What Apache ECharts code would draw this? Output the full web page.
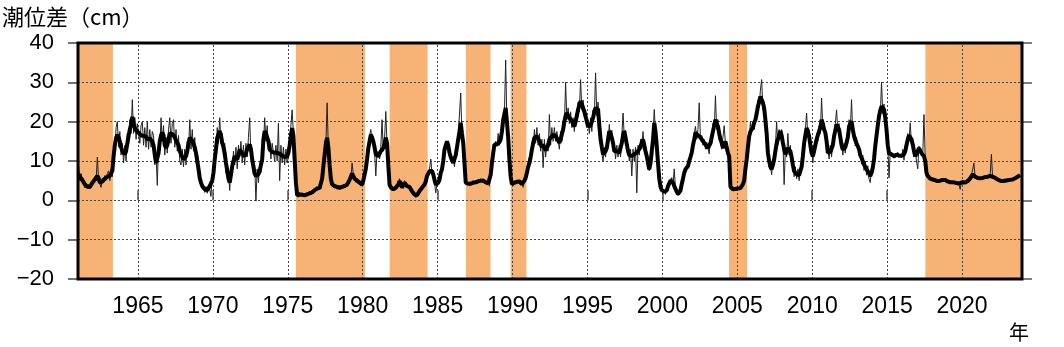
<!DOCTYPE html>
<html>
<head>
<meta charset="utf-8">
<script src="https://cdn.jsdelivr.net/npm/echarts@6/dist/echarts.min.js"></script>
<style>
  html, body { margin: 0; padding: 0; background: #fff; }
  #chart { width: 1064px; height: 347px; }
</style>
</head>
<body>
<div id="chart"></div>
<script>
// Tide-level difference (cm), one row per year (Jan..Dec), starting 1961.
const startYear = 1961;

// Short-period values (thin line).
const rawRows = [
  [9.0,5.0,6.8,4.6,5.5,3.2,4.4,3.0,4.0,2.9,4.5,4.0],            // 1961
  [4.2,6.0,5.0,11.0,5.0,5.2,3.3,5.6,4.5,6.3,5.1,6.8],           // 1962
  [7.5,5.0,8.0,6.0,13.5,12.0,18.5,20.0,13.5,17.5,11.5,14.5],    // 1963
  [9.5,14.0,10.0,17.0,14.0,20.5,17.0,25.6,17.0,21.0,15.5,19.5], // 1964
  [20.0,14.5,19.0,20.0,14.0,18.5,13.5,20.0,13.0,18.0,13.5,17.5],// 1965
  [16.5,9.0,12.0,3.8,14.5,13.0,21.0,15.0,19.0,11.5,16.0,12.0],  // 1966
  [18.0,21.0,14.5,19.5,20.5,13.5,18.0,12.5,16.5,10.0,9.0,13.0], // 1967
  [8.5,13.0,9.0,15.0,12.5,20.5,13.0,18.0,12.5,16.0,9.5,12.0],   // 1968
  [10.0,5.0,5.5,3.0,4.0,2.0,3.5,1.8,3.6,2.8,1.0,6.0],           // 1969
  [5.0,12.5,11.0,18.5,14.5,21.0,14.5,17.0,11.0,14.5,7.0,9.5],   // 1970
  [7.5,2.5,8.5,6.5,12.5,9.0,13.5,8.0,14.0,11.0,15.0,9.5],       // 1971
  [14.0,9.0,14.5,11.0,16.0,21.0,11.0,12.5,6.5,9.0,-0.2,8.0],    // 1972
  [4.5,9.5,7.0,12.5,13.5,21.0,15.0,19.0,13.0,15.0,10.5,14.5],   // 1973
  [14.5,10.0,14.0,10.0,19.6,5.0,14.0,9.5,13.5,9.0,13.0,9.5],    // 1974
  [11.0,15.0,15.5,23.0,17.0,11.5,3.5,1.8,0.8,2.0,1.1,1.9],      // 1975
  [0.9,1.8,1.0,2.0,1.2,2.3,1.5,2.5,1.9,3.1,2.4,3.5],            // 1976
  [2.7,3.8,2.9,6.5,8.0,12.5,14.0,24.8,13.0,10.0,4.8,4.6],       // 1977
  [4.3,3.1,4.0,2.8,3.8,2.7,3.8,2.9,4.1,3.2,4.2,3.6],            // 1978
  [4.0,5.8,5.2,9.5,6.5,6.2,4.6,5.6,4.3,5.0,3.7,4.5],            // 1979
  [5.5,6.0,9.0,10.0,14.5,14.0,18.0,15.0,16.0,12.5,6.2,12.5],    // 1980
  [12.5,10.5,13.5,20.5,12.5,15.5,22.6,14.0,9.5,3.5,3.8,2.6],    // 1981
  [3.2,2.5,3.6,3.1,4.5,5.5,3.8,3.6,3.1,5.0,3.6,4.1],            // 1982
  [3.1,3.9,2.6,2.8,1.4,1.9,0.7,1.7,1.4,2.9,2.4,3.6],            // 1983
  [3.1,4.5,4.3,6.8,6.3,8.0,10.5,7.0,7.2,4.6,1.9,4.2],           // 1984
  [5.2,4.6,7.8,7.2,11.0,12.0,15.0,14.2,15.0,11.2,12.0,9.5],     // 1985
  [10.5,8.5,12.5,12.8,16.5,16.8,27.3,16.0,15.5,8.5,5.0,3.9],    // 1986
  [4.6,3.7,4.7,4.0,5.0,4.1,5.0,4.3,5.3,4.5,5.5,4.8],            // 1987
  [5.5,4.4,5.1,4.0,4.8,3.6,7.2,9.0,13.0,13.5,15.0,13.8],        // 1988
  [17.0,14.0,16.5,17.0,21.5,22.5,35.7,19.0,16.5,10.0,5.5,4.6],  // 1989
  [4.0,4.9,4.1,5.1,4.4,5.2,4.0,4.6,3.3,5.5,5.3,7.5],            // 1990
  [7.0,11.0,9.5,14.5,13.0,18.0,14.5,18.5,14.0,17.0,12.5,15.5],  // 1991
  [8.3,15.5,11.0,14.5,12.5,21.8,14.0,18.5,15.0,18.5,15.0,17.5], // 1992
  [17.0,13.0,17.5,15.0,20.0,18.5,30.0,20.5,23.5,19.5,22.5,18.5],// 1993
  [21.0,17.5,22.0,20.0,25.0,22.5,30.7,23.0,25.5,21.0,23.0,18.5],// 1994
  [20.5,17.0,21.0,17.5,23.0,21.0,32.4,21.5,25.0,17.0,17.0,12.0],// 1995
  [10.0,13.5,11.0,15.0,14.0,19.3,15.5,17.8,12.8,14.0,10.5,14.0],// 1996
  [11.0,14.0,11.0,16.5,22.2,16.0,17.8,12.5,14.0,10.0,13.0,6.2], // 1997
  [13.0,10.0,13.5,1.9,14.0,11.5,15.5,13.0,17.5,12.5,14.0,9.5],  // 1998
  [10.0,7.5,10.5,12.0,16.5,23.1,17.0,14.5,9.0,6.0,3.0,3.1],     // 1999
  [2.0,2.6,1.5,3.0,3.2,4.8,4.6,5.8,4.0,8.0,2.8,2.6],            // 2000
  [1.2,2.0,2.2,4.6,5.0,7.5,7.5,8.8,8.2,10.5,10.5,12.8],         // 2001
  [12.5,17.0,18.8,15.5,18.0,24.8,15.5,16.5,14.0,15.5,13.0,14.8],// 2002
  [15.0,11.8,16.0,14.5,19.5,17.5,26.6,18.0,20.5,15.5,17.0,13.0],// 2003
  [12.8,19.0,14.5,14.0,11.5,11.8,3.0,3.4,2.5,3.1,2.7,3.3],      // 2004
  [3.2,2.8,3.4,3.2,4.5,4.6,8.5,10.0,14.0,15.5,20.0,17.5],       // 2005
  [20.0,18.0,22.5,20.5,25.5,23.5,28.0,30.7,23.0,25.0,19.0,18.5],// 2006
  [13.5,8.5,9.5,6.5,10.5,9.5,13.5,20.0,14.0,18.0,16.0,18.0],    // 2007
  [15.5,4.0,13.0,11.0,17.0,11.5,14.0,9.5,10.5,6.0,8.5,5.5],     // 2008
  [8.0,5.0,7.5,7.0,13.0,13.0,18.0,22.2,16.0,18.0,12.5,13.5],    // 2009
  [9.5,14.0,12.5,17.0,15.0,19.0,17.0,26.0,18.0,19.5,15.8,16.5], // 2010
  [13.5,10.5,14.0,11.0,15.5,15.0,19.5,23.0,17.5,19.5,14.5,15.5],// 2011
  [11.5,14.5,12.0,15.5,14.5,20.5,18.0,25.6,16.5,18.0,13.8,16.0],// 2012
  [15.8,11.5,13.0,9.2,11.5,7.6,10.0,6.4,8.8,5.4,4.5,8.5],       // 2013
  [7.0,12.0,12.3,18.0,17.5,23.0,21.5,30.0,22.0,24.5,19.5,19.5], // 2014
  [14.5,5.7,12.4,11.2,12.0,10.7,11.9,11.1,12.2,10.9,11.7,10.8], // 2015
  [13.0,10.2,14.0,12.5,17.0,15.0,19.7,14.0,15.7,11.0,12.7,10.0],// 2016
  [8.0,13.8,12.3,12.5,11.2,21.8,10.5,6.6,6.6,5.5,5.8,5.0],      // 2017
  [5.6,5.0,5.4,4.7,5.2,4.6,5.3,4.8,5.5,5.0,5.5,4.7],            // 2018
  [5.1,4.4,4.9,4.3,4.9,4.3,4.8,4.1,4.6,4.0,2.8,4.8],            // 2019
  [4.3,4.9,4.2,4.9,4.6,5.7,5.3,6.4,6.3,9.5,5.7,6.1],            // 2020
  [6.0,5.4,5.9,5.4,6.0,5.5,6.2,5.7,6.3,5.8,6.5,11.7],           // 2021
  [5.7,6.1,5.4,5.8,5.0,5.4,4.7,5.3,4.6,5.2,4.7,5.4],            // 2022
  [4.8,5.4,4.9,5.6,5.0,5.7,5.3,6.1,5.7,6.6,6.2]                 // 2023
];

// Smoothed values (thick line).
const smoothRows = [
  [6.5,6.0,5.6,5.3,4.6,4.0,3.6,3.5,3.4,3.4,3.8,4.5],            // 1961
  [5.0,5.3,5.8,6.2,5.6,4.5,4.0,4.8,5.3,5.5,5.8,6.0],            // 1962
  [6.0,6.2,6.5,7.5,11.2,14.0,15.9,16.7,16.0,15.0,13.5,12.5],    // 1963
  [12.0,11.7,12.5,14.5,16.3,18.0,19.3,21.2,19.5,18.4,17.8,17.3],// 1964
  [17.2,17.0,16.5,16.3,16.4,16.5,16.2,15.5,15.3,15.7,15.9,15.0],// 1965
  [14.0,11.5,9.5,9.0,12.0,15.0,16.5,17.2,16.5,14.0,13.3,14.0],  // 1966
  [15.5,17.0,17.2,16.9,16.7,16.0,15.2,15.0,14.0,12.5,12.1,11.0],// 1967
  [10.4,10.8,11.2,12.5,14.5,15.9,15.5,15.2,15.0,13.5,12.0,10.0],// 1968
  [8.0,5.7,4.5,3.6,3.2,2.8,2.6,2.6,3.0,3.6,4.0,5.0],            // 1969
  [7.0,10.4,13.0,15.9,16.8,17.6,16.5,14.6,13.5,12.0,9.5,7.5],   // 1970
  [5.5,4.5,6.5,8.7,10.0,11.2,11.0,10.4,11.5,12.9,12.5,11.8],    // 1971
  [11.5,11.2,12.0,13.0,13.6,14.2,13.0,10.4,8.5,6.8,6.2,6.5],    // 1972
  [6.6,7.5,9.0,10.4,15.5,17.6,17.0,16.7,15.0,12.9,12.5,12.3],   // 1973
  [12.1,12.1,12.1,12.1,12.0,11.8,11.7,11.4,11.2,11.0,10.8,11.2],// 1974
  [12.1,14.0,16.5,18.4,16.5,10.5,4.5,1.3,1.2,1.5,1.5,1.4],      // 1975
  [1.3,1.3,1.4,1.5,1.6,1.8,1.9,2.0,2.3,2.6,2.8,3.0],            // 1976
  [3.2,3.2,3.3,5.5,8.7,11.5,14.5,15.9,13.5,9.0,5.5,4.1],        // 1977
  [3.8,3.6,3.5,3.4,3.3,3.2,3.2,3.4,3.6,3.6,3.7,4.0],            // 1978
  [4.5,5.2,5.7,6.8,7.2,5.5,5.2,5.0,4.9,4.5,4.2,4.0],            // 1979
  [5.0,6.5,8.0,10.5,13.3,15.0,16.7,16.0,15.0,13.5,11.7,11.3],   // 1980
  [11.2,11.5,12.5,13.0,13.3,14.5,15.9,14.5,9.0,4.0,3.3,3.0],    // 1981
  [2.8,2.9,3.2,3.6,4.0,4.9,4.2,3.2,3.6,4.5,4.0,3.6],            // 1982
  [3.6,3.4,3.0,2.3,1.8,1.5,1.1,1.3,1.8,2.4,2.8,3.2],            // 1983
  [3.6,4.0,4.8,6.2,6.8,7.4,7.9,7.5,6.6,5.2,4.0,3.6],            // 1984
  [4.5,5.2,7.0,7.9,10.0,12.9,14.0,15.0,14.0,12.1,11.0,10.2],    // 1985
  [9.5,9.5,11.5,13.5,15.5,17.5,19.7,17.0,14.6,9.5,4.5,4.3],     // 1986
  [4.2,4.1,4.2,4.4,4.5,4.5,4.6,4.7,4.8,4.9,5.0,5.2],            // 1987
  [5.0,4.8,4.6,4.5,4.3,4.1,6.5,9.5,12.0,14.2,14.2,14.2],        // 1988
  [14.3,14.8,15.5,17.5,20.5,22.0,23.5,20.0,16.0,10.4,6.0,4.1],  // 1989
  [4.3,4.5,4.5,4.7,4.9,4.8,4.5,4.1,4.3,5.0,5.7,7.0],            // 1990
  [8.5,9.5,11.0,12.9,14.5,15.9,16.2,16.3,15.8,15.0,14.2,13.5],  // 1991
  [14.2,13.4,12.7,12.5,14.0,15.5,15.9,16.3,16.5,16.7,16.7,15.8],// 1992
  [15.5,14.6,15.5,16.8,18.0,20.0,21.5,22.2,21.8,21.0,20.5,20.1],// 1993
  [19.5,18.8,20.0,21.5,23.1,24.2,25.2,24.5,23.5,22.5,21.4,20.0],// 1994
  [18.8,18.8,19.0,19.3,21.0,22.5,23.5,23.3,23.1,19.0,15.5,13.5],// 1995
  [11.7,12.0,12.5,13.3,15.5,17.6,17.0,15.9,14.5,12.5,12.1,12.5],// 1996
  [12.5,12.1,12.5,14.6,16.5,17.6,16.0,14.2,12.5,11.5,11.2,11.3],// 1997
  [11.5,11.7,11.9,12.1,12.5,13.0,13.8,14.5,15.5,14.0,12.5,11.2],// 1998
  [9.5,7.9,9.5,12.5,15.5,19.7,17.5,13.8,9.5,5.5,3.5,2.6],       // 1999
  [2.4,2.2,1.9,2.5,3.6,4.3,5.0,5.3,4.5,3.6,3.2,2.2],            // 2000
  [1.6,1.5,2.5,4.1,5.5,7.0,7.9,8.3,8.7,10.0,11.0,12.1],         // 2001
  [14.0,15.5,17.2,17.0,16.5,16.3,16.0,15.5,15.0,14.5,14.2,13.8],// 2002
  [13.3,13.3,14.5,16.0,17.6,19.0,20.5,19.5,18.8,17.0,15.5,14.6],// 2003
  [13.3,14.0,15.0,13.5,12.0,11.2,3.5,3.0,2.8,2.8,2.9,3.0],      // 2004
  [3.0,3.0,3.1,3.5,4.1,5.0,8.0,10.4,13.5,16.3,17.5,18.0],       // 2005
  [18.5,19.7,20.5,22.0,23.9,25.0,26.4,26.0,24.8,23.5,20.5,17.0],// 2006
  [12.1,10.0,8.5,7.9,9.0,10.4,12.5,14.5,15.5,16.5,17.6,16.5],   // 2007
  [14.6,13.0,11.7,12.5,13.3,13.0,12.5,11.0,9.0,7.4,7.0,6.6],    // 2008
  [6.6,6.4,6.2,8.5,11.2,14.5,16.5,18.4,17.5,16.3,14.0,12.0],    // 2009
  [11.2,12.5,14.0,15.5,16.5,17.6,18.5,20.5,19.5,18.0,17.2,15.0],// 2010
  [12.1,12.1,12.3,12.5,14.0,16.3,17.8,19.3,18.8,18.0,16.0,14.0],// 2011
  [12.9,13.0,13.5,13.8,16.0,18.8,19.5,20.1,18.0,16.3,15.3,14.5],// 2012
  [14.2,13.0,11.5,10.8,10.0,9.1,8.5,7.9,7.4,6.8,6.2,7.0],       // 2013
  [8.3,10.5,13.8,16.5,19.0,21.4,22.8,23.9,23.5,23.1,21.0,18.0], // 2014
  [14.0,12.0,11.9,11.7,11.5,11.2,11.4,11.6,11.7,11.4,11.2,11.3],// 2015
  [11.5,11.7,12.5,14.0,15.5,16.5,16.7,15.5,14.2,12.5,11.2,11.5],// 2016
  [12.5,13.3,12.8,12.0,11.7,11.2,10.0,7.0,6.2,5.8,5.5,5.3],     // 2017
  [5.3,5.2,5.1,5.0,4.9,4.9,5.0,5.1,5.2,5.3,5.2,5.0],            // 2018
  [4.8,4.7,4.6,4.6,4.6,4.6,4.5,4.4,4.3,4.3,4.4,4.5],            // 2019
  [4.6,4.6,4.5,4.6,4.9,5.3,5.6,6.0,6.6,6.5,6.0,5.8],            // 2020
  [5.7,5.7,5.6,5.7,5.7,5.8,5.9,6.0,6.0,6.1,6.2,6.2],            // 2021
  [6.0,5.8,5.7,5.5,5.3,5.1,5.0,5.0,4.9,4.9,5.0,5.1],            // 2022
  [5.1,5.1,5.2,5.3,5.3,5.4,5.6,5.8,6.0,6.3,6.4]                 // 2023
];

// Large-meander periods (decimal years).
const meanderStart = [1961.0, 1975.55, 1981.8, 1986.89, 1989.87, 2004.45, 2017.55];
const meanderEnd   = [1963.33, 1980.15, 1984.33, 1988.53, 1990.93, 2005.65, 2024.0];

const yearTicks = [1965, 1970, 1975, 1980, 1985, 1990, 1995, 2000, 2005, 2010, 2015, 2020];
const levelTicks = [-10, 0, 10, 20, 30];
const xMin = 1961, xMax = 2024;
const yMin = -20, yMax = 40, yStep = 10;

function toSeries(rows) {
  const out = [];
  rows.forEach((row, r) => row.forEach((v, m) => {
    out.push([startYear + r + (m + 0.5) / 12, v]);
  }));
  return out;
}
const rawData = toSeries(rawRows);
const smoothData = toSeries(smoothRows);
const bands = meanderStart.map((s, i) => [{ xAxis: s }, { xAxis: meanderEnd[i] }]);
const gridLines = yearTicks.map(v => ({ xAxis: v })).concat(levelTicks.map(v => ({ yAxis: v })));

const numFont = '"Liberation Sans", Arial, sans-serif';
const cjkFont = '"Noto Sans CJK JP", sans-serif';

const chart = echarts.init(document.getElementById('chart'), null, { renderer: 'canvas' });
chart.setOption({
  animation: false,
  backgroundColor: '#fff',
  grid: {
    left: 78, right: 42, top: 43, bottom: 68,
    show: true, borderColor: '#000', borderWidth: 3, backgroundColor: 'transparent', z: 6
  },
  xAxis: [{
    type: 'value', min: xMin, max: xMax, position: 'bottom',
    axisLine: { show: false },
    axisTick: { show: false, customValues: yearTicks },
    axisLabel: {
      customValues: yearTicks, formatter: v => String(v),
      fontFamily: numFont, fontSize: 23, color: '#000', margin: 16
    },
    splitLine: { show: false }
  }, {
    type: 'value', min: xMin, max: xMax, position: 'top',
    axisLine: { show: false },
    axisTick: { show: true, inside: false, length: 10, customValues: yearTicks,
      lineStyle: { color: '#555', width: 1.5 } },
    axisLabel: { show: false, customValues: yearTicks },
    splitLine: { show: false }
  }],
  yAxis: [{
    type: 'value', min: yMin, max: yMax, interval: yStep, position: 'left',
    axisLine: { show: false },
    axisTick: { show: true, inside: false, length: 10, lineStyle: { color: '#444', width: 1.5 } },
    axisLabel: {
      formatter: v => (v < 0 ? '\u2212' + Math.abs(v) : String(v)),
      fontFamily: numFont, fontSize: 22, color: '#000', margin: 24
    },
    splitLine: { show: false }
  }, {
    type: 'value', min: yMin, max: yMax, interval: yStep, position: 'right',
    axisLine: { show: false },
    axisTick: { show: true, inside: false, length: 10, lineStyle: { color: '#555', width: 1.5 } },
    axisLabel: { show: false },
    splitLine: { show: false }
  }],
  graphic: [
    { type: 'text', left: 2, top: 6,
      style: { text: '潮位差（cm）', font: '22px ' + cjkFont, fill: '#000' } },
    { type: 'text', left: 1009, top: 322,
      style: { text: '年', font: '20px ' + cjkFont, fill: '#000' } }
  ],
  series: [{
    // meander shading and dotted grid
    type: 'line', data: [], silent: true, z: 1,
    markArea: { silent: true, z: 1, itemStyle: { color: '#F7B275', opacity: 1 }, data: bands },
    markLine: {
      silent: true, z: 2, symbol: ['none', 'none'], label: { show: false },
      lineStyle: { color: '#444', width: 1, type: [2, 2] }, data: gridLines
    }
  }, {
    name: 'raw', type: 'line', data: rawData, showSymbol: false, z: 3,
    lineStyle: { color: '#222', width: 1 }, silent: true
  }, {
    name: 'smooth', type: 'line', data: smoothData, showSymbol: false, z: 4,
    lineStyle: { color: '#000', width: 4 }, silent: true
  }]
});
</script>
</body>
</html>
